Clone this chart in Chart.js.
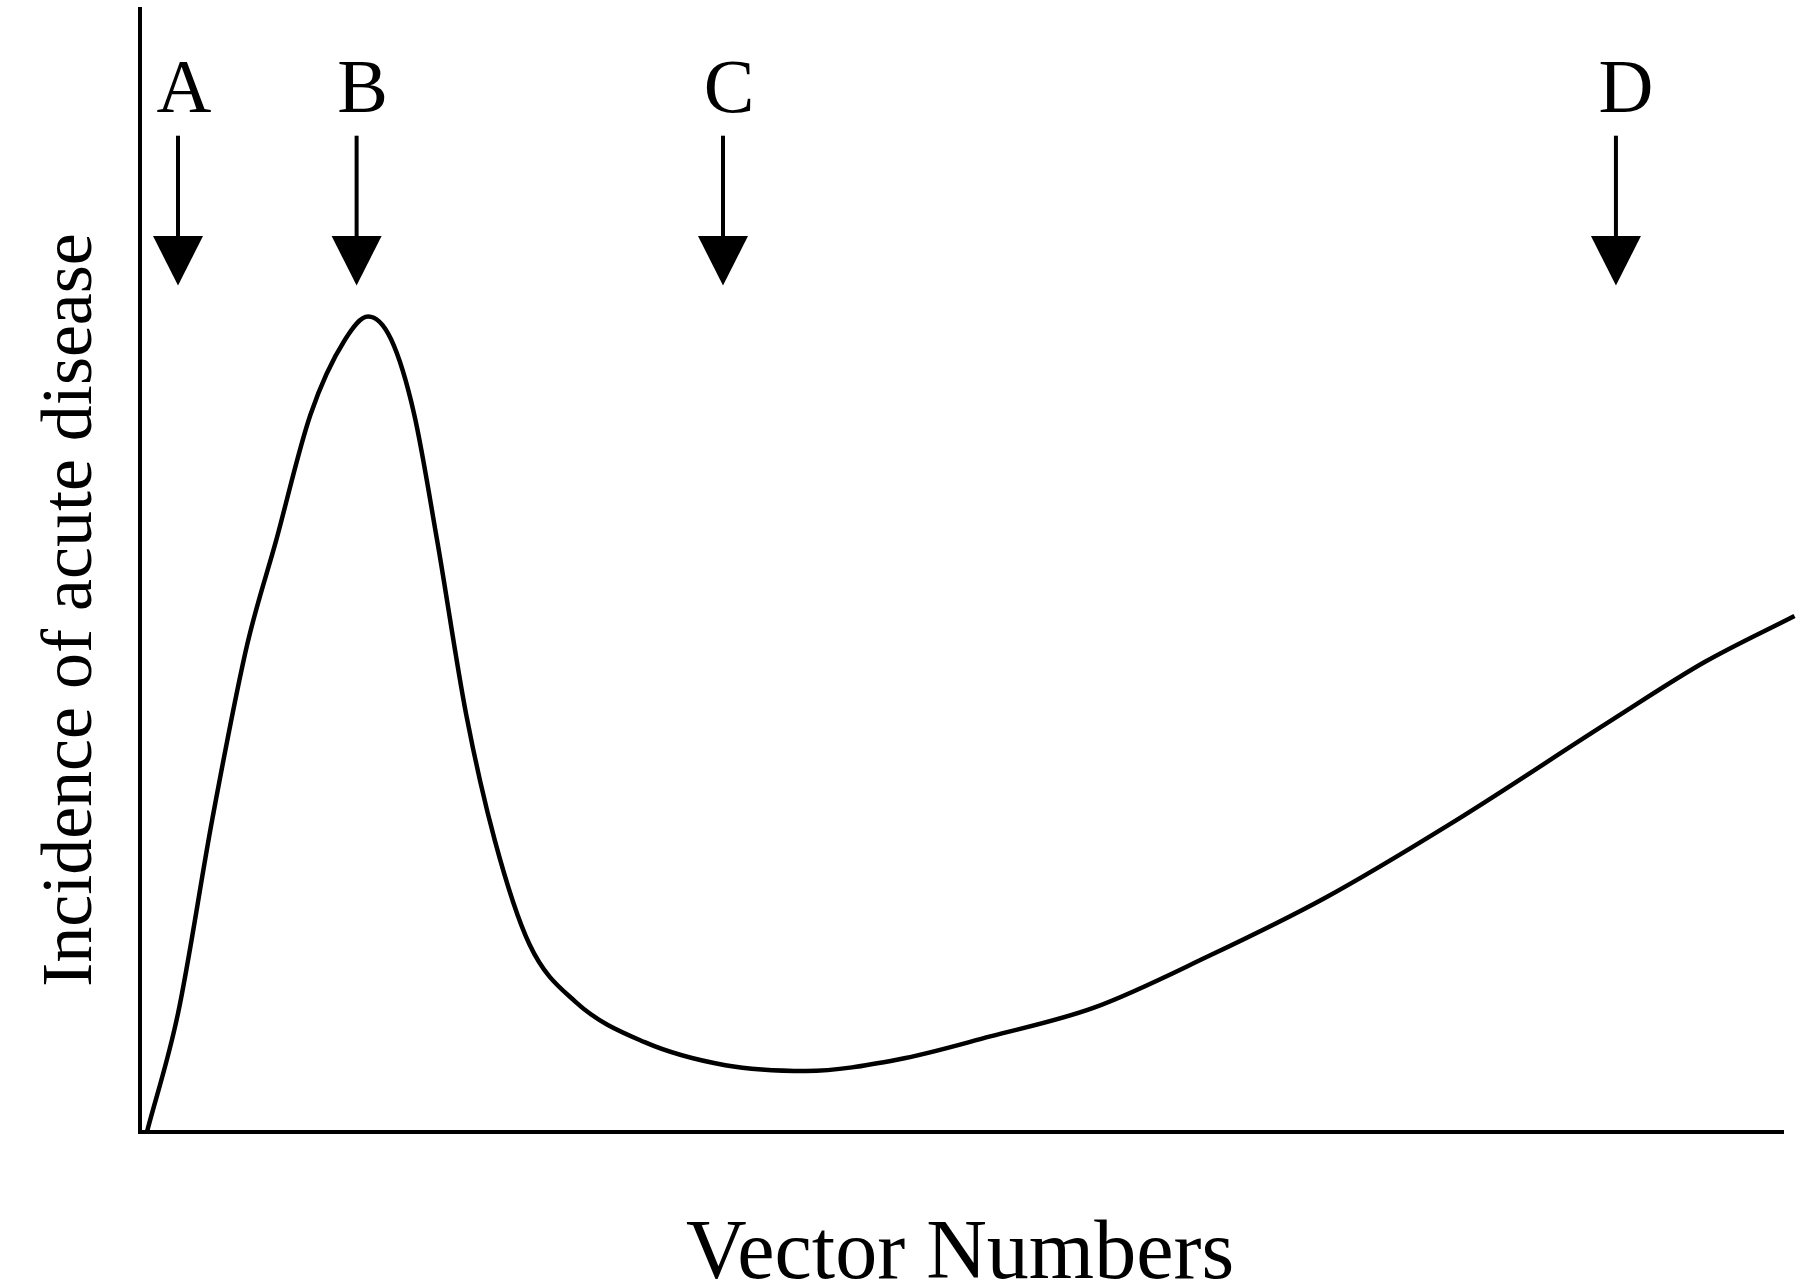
<!DOCTYPE html>
<html><head><meta charset="utf-8">
<script src="https://cdn.jsdelivr.net/npm/chart.js@4"></script>
<style>html,body{margin:0;padding:0;background:#fff}#wrap{width:1800px;height:1287px}</style>
</head><body><div id="wrap"><canvas id="c"></canvas></div>
<script>
// curve samples (x: vector numbers, y: incidence), arbitrary units
const curveX = [6,33,63,93,118,148,178,198,218,238,258,283,308,338,378,438,508,578,658,738,828,928,1028,1138,1278,1358,1436];
const curveY = [0,103,273,423,513,623,688,708,688,623,513,363,253,163,113,78,58,53,63,83,108,153,203,268,358,408,448];
const markerLabels = ['A','B','C','D'];
const markerX = [33,188,506,1281];
const xTitle = 'Vector Numbers';
const yTitle = 'Incidence of acute disease';

const overlay = {
  id:'overlay',
  afterDraw(chart){
    const {ctx, scales:{x,y}} = chart;
    ctx.save();
    ctx.fillStyle='#000'; ctx.strokeStyle='#000';
    ctx.font='76px "Liberation Serif"';
    ctx.textAlign='center'; ctx.textBaseline='alphabetic';
    markerLabels.forEach((l,i)=>{
      const px = x.getPixelForValue(markerX[i]);
      const lx = px + (i===0?6:(i===3?10:6));
      ctx.fillText(l, lx, y.getPixelForValue(983-97));
      const y1 = y.getPixelForValue(983-118), y2 = y.getPixelForValue(983-205), y3 = y.getPixelForValue(983-248);
      ctx.lineWidth=4;
      ctx.beginPath(); ctx.moveTo(px,y1); ctx.lineTo(px,y2+2); ctx.stroke();
      ctx.beginPath(); ctx.moveTo(px-25,y2); ctx.lineTo(px+25,y2); ctx.lineTo(px,y3); ctx.closePath(); ctx.fill();
    });
    ctx.font='84px "Liberation Serif"';
    ctx.fillText(xTitle, 960, 1278);
    ctx.translate(72, 610); ctx.rotate(-Math.PI/2);
    ctx.font='72px "Liberation Serif"';
    ctx.textBaseline='middle';
    ctx.fillText(yTitle, 0, 0);
    ctx.restore();
  }
};

new Chart(document.getElementById('c'), {
  type:'line',
  data:{datasets:[{data:curveX.map((v,i)=>({x:v,y:curveY[i]})), borderColor:'#000', borderWidth:4.5, pointRadius:0, cubicInterpolationMode:'monotone', fill:false, clip:false}]},
  options:{
    responsive:true, maintainAspectRatio:false, animation:false,
    layout:{padding:{left:140,right:17,top:9,bottom:155}},
    plugins:{legend:{display:false},tooltip:{enabled:false}},
    scales:{
      x:{type:'linear',min:0,max:1426,ticks:{display:false},grid:{display:false},border:{display:true,color:'#000',width:4},afterFit(s){s.height=0;}},
      y:{type:'linear',min:0,max:975,ticks:{display:false},grid:{display:false},border:{display:true,color:'#000',width:4},afterFit(s){s.width=0;}}
    }
  },
  plugins:[overlay]
});
</script></body></html>
